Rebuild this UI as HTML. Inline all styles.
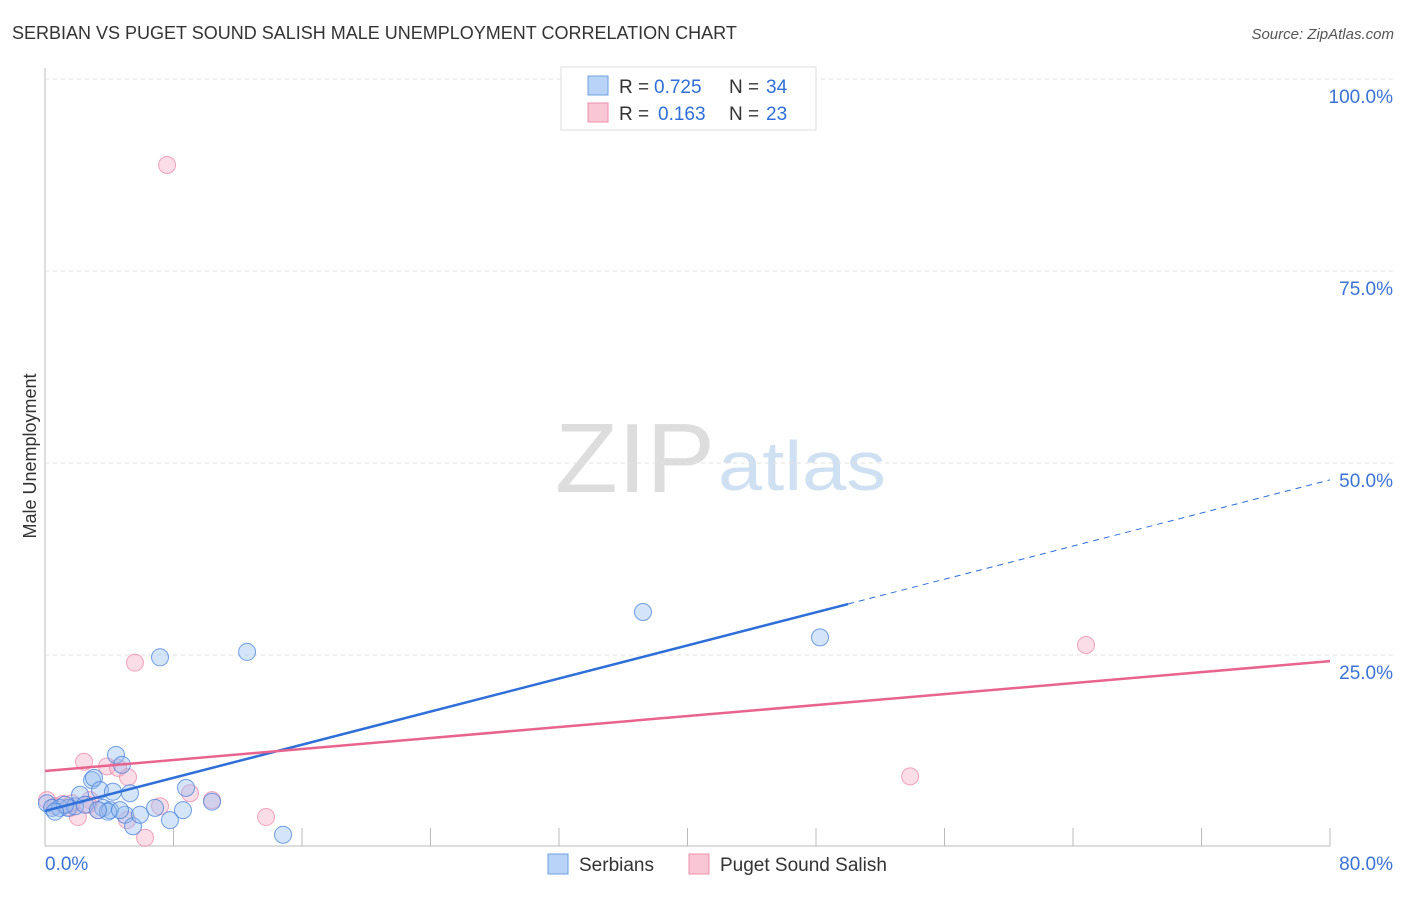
<!DOCTYPE html>
<html><head><meta charset="utf-8"><style>
body{margin:0;background:#fff;font-family:"Liberation Sans",sans-serif}
svg text{font-family:"Liberation Sans",sans-serif}
</style></head><body>
<svg id="c" width="1406" height="892">
<text x="12" y="39" font-size="18" fill="#333">SERBIAN VS PUGET SOUND SALISH MALE UNEMPLOYMENT CORRELATION CHART</text>
<text x="1394" y="39" font-size="15" fill="#555" font-style="italic" text-anchor="end">Source: ZipAtlas.com</text>
<text x="36" y="456" font-size="18" fill="#333" transform="rotate(-90 36 456)" text-anchor="middle">Male Unemployment</text>
<text x="555" y="492" font-size="98" fill="#ddd" textLength="160" lengthAdjust="spacingAndGlyphs" font-family="Liberation Serif">ZIP</text>
<text x="718" y="490" font-size="70" fill="#cfe0f3" textLength="168" lengthAdjust="spacingAndGlyphs">atlas</text>
<g id="grid"></g><g id="marks"></g>
<g>
<rect x="561" y="67" width="255" height="63" fill="#fff" stroke="#ddd"/>
<rect x="588" y="76" width="20" height="19" fill="#b8d3f5" stroke="#6fa0e0"/>
<rect x="588" y="103" width="20" height="19" fill="#f9c6d6" stroke="#ec90ad"/>
<text x="619" y="93" font-size="19" fill="#333">R =</text><text x="654" y="93" font-size="19" fill="#2f6fd8">0.725</text>
<text x="729" y="93" font-size="19" fill="#333">N =</text><text x="766" y="93" font-size="19" fill="#2f6fd8">34</text>
<text x="619" y="120" font-size="19" fill="#333">R =</text><text x="658" y="120" font-size="19" fill="#2f6fd8">0.163</text>
<text x="729" y="120" font-size="19" fill="#333">N =</text><text x="766" y="120" font-size="19" fill="#2f6fd8">23</text>
</g>
<g>
<rect x="548" y="854" width="20" height="20" fill="#b8d3f5" stroke="#6fa0e0"/>
<text x="579" y="871" font-size="19" fill="#333">Serbians</text>
<rect x="689" y="854" width="20" height="20" fill="#f9c6d6" stroke="#ec90ad"/>
<text x="720" y="871" font-size="19" fill="#333">Puget Sound Salish</text>
</g>
</svg>
<script>
const blueX=[0.12,0.44,0.93,1.43,1.87,2.18,2.93,3.05,3.42,3.61,4.05,3.92,4.42,4.79,4.23,5.29,4.98,5.48,5.91,6.85,7.16,7.78,8.59,8.78,10.4,12.58,14.82,37.23,48.25,2.49,3.30,4.67,1.25,0.62];
const blueY=[5.7,5.1,5.1,5.1,5.3,6.8,8.7,9.0,7.4,5.1,4.8,4.6,12.0,10.7,7.2,7.0,4.2,2.7,4.2,5.1,24.7,3.5,4.8,7.7,5.9,25.4,1.6,30.6,27.3,5.5,4.8,4.8,5.5,4.6];
const pinkX=[0.12,0.62,1.12,1.56,2.05,2.43,2.80,3.30,3.86,4.55,5.17,5.11,5.60,6.23,7.16,7.60,9.03,10.4,13.76,53.86,64.81,2.68,1.68];
const pinkY=[6.1,5.3,5.6,5.1,3.9,11.1,6.1,4.8,10.5,10.3,9.1,3.5,24.0,1.2,5.3,88.8,7.0,6.1,3.9,9.2,26.3,5.5,5.7];
const yTicks=[25,50,75,100];
const blueTrend=[4.7,47.8],blueSolidEnd=50,pinkTrend=[9.9,24.2];
const sx=v=>45+v/80*1285, sy=v=>847-v*7.68;
const NS='http://www.w3.org/2000/svg';
function mk(p,t,a){const e=document.createElementNS(NS,t);for(const k in a)e.setAttribute(k,a[k]);p.appendChild(e);return e;}
const g=document.getElementById('grid'),m=document.getElementById('marks');
mk(g,'line',{x1:45,y1:68,x2:45,y2:846,stroke:'#bbb'});
mk(g,'line',{x1:45,y1:846,x2:1330,y2:846,stroke:'#bbb'});
for(let i=1;i<=10;i++){const x=sx(i*8);const l=mk(g,'line',{x1:x,y1:828,x2:x,y2:846,stroke:'#bbb'});

}
yTicks.forEach(v=>{const l=mk(g,'line',{x1:45,y1:sy(v),x2:1393,y2:sy(v),stroke:'#e2e2e2','stroke-dasharray':'4,4'});


const t=mk(g,'text',{x:1393,y:sy(v)+24,'font-size':19,fill:'#3a73d6','text-anchor':'end'});t.textContent=v.toFixed(1)+'%';

});
[[0,'0.0%','start',45],[80,'80.0%','end',1393]].forEach(a=>{const t=mk(g,'text',{x:a[3],y:870,'font-size':19,fill:'#3a73d6','text-anchor':a[2]});t.textContent=a[1];

});
pinkX.forEach((x,i)=>{const c=mk(m,'circle',{cx:sx(x),cy:sy(pinkY[i]),r:8.5,fill:'rgba(246,170,196,0.4)',stroke:'rgba(236,130,165,0.7)'});

});
blueX.forEach((x,i)=>{const c=mk(m,'circle',{cx:sx(x),cy:sy(blueY[i]),r:8.5,fill:'rgba(150,190,240,0.4)',stroke:'rgba(70,130,220,0.75)'});

});
const by=x=>blueTrend[0]+(blueTrend[1]-blueTrend[0])*x/80;
let l=mk(m,'line',{x1:sx(0),y1:sy(by(0)),x2:sx(blueSolidEnd),y2:sy(by(blueSolidEnd)),stroke:'#2f6fd8','stroke-width':2.5});


l=mk(m,'line',{x1:sx(blueSolidEnd),y1:sy(by(blueSolidEnd)),x2:sx(80),y2:sy(by(80)),stroke:'#2f6fd8','stroke-width':1,'stroke-dasharray':'6,5'});


l=mk(m,'line',{x1:sx(0),y1:sy(pinkTrend[0]),x2:sx(80),y2:sy(pinkTrend[1]),stroke:'#e8648f','stroke-width':2.5});


</script>
</body></html>
